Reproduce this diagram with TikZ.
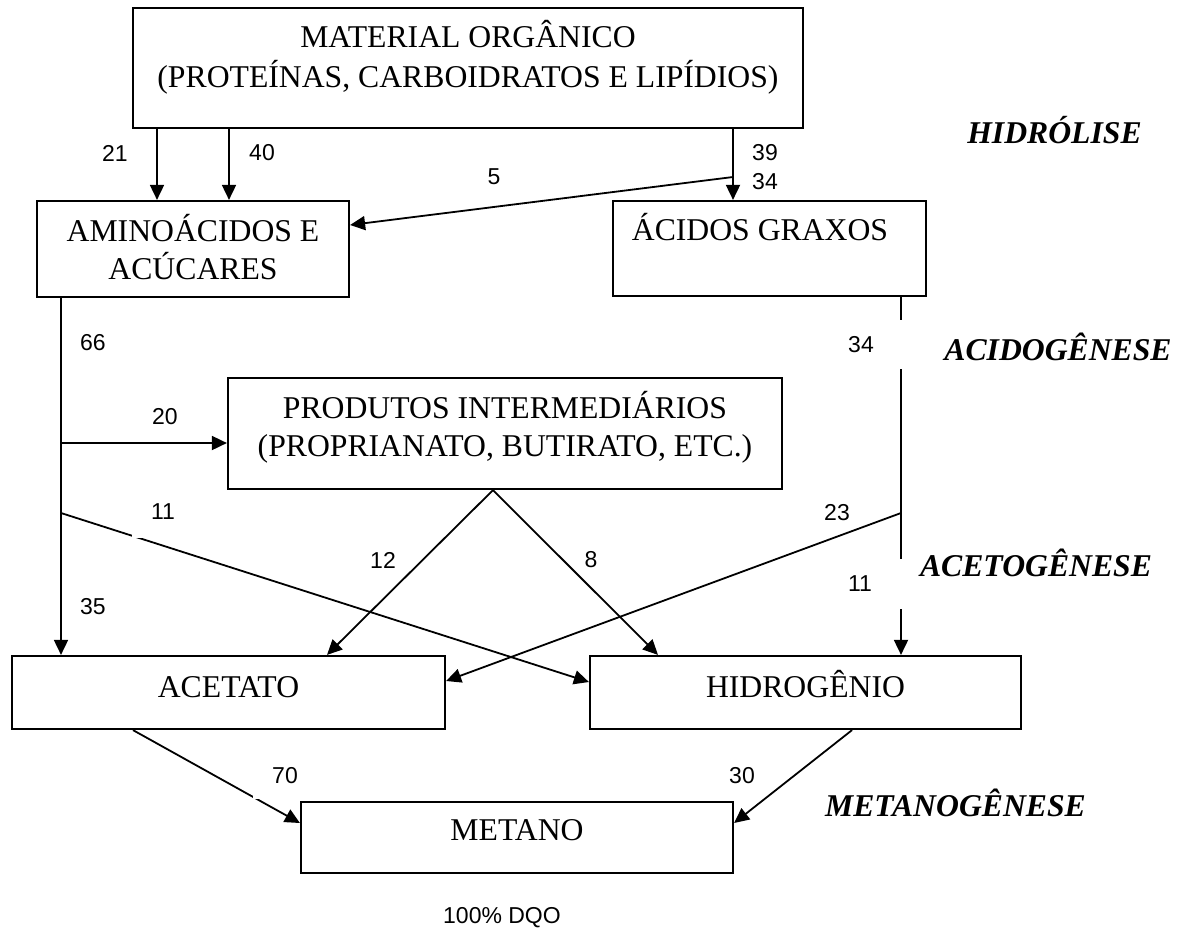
\documentclass[tikz,border=0pt]{standalone}
\usepackage{fontspec}
\setmainfont{Liberation Serif}
\newfontfamily\arialf{Liberation Sans}
\usetikzlibrary{arrows.meta}
\begin{document}
\begin{tikzpicture}[x=1pt,y=-1pt,
  box/.style={draw, line width=2.2pt, inner sep=0pt, fill=white},
  conn/.style={line width=1.8pt},
  arr/.style={conn, -{Triangle[length=15pt,width=14pt]}},
  num/.style={font=\arialf\fontsize{23}{27}\selectfont, inner sep=0pt},
  numw/.style={num, fill=white},
  stage/.style={font=\fontsize{31.7}{40}\selectfont\bfseries\itshape, inner sep=0pt, anchor=base}]
\useasboundingbox (0,0) rectangle (1193,932);

% boxes
\node[box, minimum width=670pt, minimum height=120pt, text height=20pt, text depth=62pt,
      font=\fontsize{31.7}{40}\selectfont] (mat) at (468,68)
  {\begin{tabular}[t]{@{}c@{}}MATERIAL ORGÂNICO\\(PROTEÍNAS, CARBOIDRATOS E LIPÍDIOS)\end{tabular}};
\node[box, minimum width=312pt, minimum height=96pt, text height=20pt, text depth=36pt,
      font=\fontsize{31.7}{37}\selectfont] (amino) at (193,249)
  {\begin{tabular}[t]{@{}c@{}}AMINOÁCIDOS E\\ACÚCARES\end{tabular}};
\node[box, minimum width=313pt, minimum height=95pt, text height=20pt, text depth=37pt,
      font=\fontsize{31.7}{40}\selectfont] (graxos) at (769.5,248.5)
  {ÁCIDOS GRAXOS\hspace*{19pt}};
\node[box, minimum width=554pt, minimum height=111pt, text height=20pt, text depth=51pt,
      font=\fontsize{31.7}{38}\selectfont] (prod) at (505,433.5)
  {\begin{tabular}[t]{@{}c@{}}PRODUTOS INTERMEDIÁRIOS\\(PROPRIANATO, BUTIRATO, ETC.)\end{tabular}};
\node[box, minimum width=433pt, minimum height=73pt, text height=22pt, text depth=13pt,
      font=\fontsize{31.7}{40}\selectfont] (acetato) at (228.5,692.5) {ACETATO};
\node[box, minimum width=431pt, minimum height=73pt, text height=22pt, text depth=13pt,
      font=\fontsize{31.7}{40}\selectfont] (hidro) at (805.5,692.5) {HIDROGÊNIO};
\node[box, minimum width=432pt, minimum height=71pt, text height=22pt, text depth=17pt,
      font=\fontsize{31.7}{40}\selectfont] (metano) at (517,837.5) {METANO};

% stage labels
\node[stage] (stH) at (1054.5,143) {HIDRÓLISE};
\node[stage] (stA) at (1058,360) {ACIDOGÊNESE};
\node[stage] (stC) at (1036,576) {ACETOGÊNESE};
\node[stage] (stM) at (955.5,816) {METANOGÊNESE};

% helper coordinates
\coordinate (x157) at (157,0);
\coordinate (x229) at (229,0);
\coordinate (x733) at (733,0);
\coordinate (x61) at (61,0);
\coordinate (x901) at (901,0);
\coordinate (x493) at (493,0);
\coordinate (x327) at (327,0);
\coordinate (x658) at (658,0);
\coordinate (x133) at (133,0);
\coordinate (x852) at (852,0);
\coordinate (j5) at (733,177);
\coordinate (y225) at (0,225);
\coordinate (j20) at (61,443);
\coordinate (j11) at (61,513);
\coordinate (y682) at (0,682);
\coordinate (j23) at (901,513);
\coordinate (y681) at (0,681);
\coordinate (y823) at (0,823);

% connectors
\draw[arr] (mat.south -| x157) -- (amino.north -| x157);
\draw[arr] (mat.south -| x229) -- (amino.north -| x229);
\draw[arr] (mat.south -| x733) -- (graxos.north -| x733);
\draw[arr] (j5) -- (amino.east |- y225);
\draw[arr] (amino.south -| x61) -- (acetato.north -| x61);
\draw[arr] (j20) -- (prod.west |- j20);
\draw[arr] (j11) -- (hidro.west |- y682);
\draw[arr] (prod.south -| x493) -- (acetato.north -| x327);
\draw[arr] (prod.south -| x493) -- (hidro.north -| x658);
\draw[arr] (graxos.south -| x901) -- (hidro.north -| x901);
\draw[arr] (j23) -- (acetato.east |- y681);
\draw[arr] (acetato.south -| x133) -- (metano.west |- y823);
\draw[arr] (hidro.south -| x852) -- (metano.east |- y823);

% numbers
\node[num] (n21) at (115,153) {21};
\node[num] (n40) at (262,153) {40};
\node[num] (n5) at (494,177) {5};
\node[num] (n39) at (765,153) {39};
\node[num] (n34a) at (765,182) {34};
\node[num] (n66) at (93,343) {66};
\node[num] (n20) at (165,417) {20};
\node[numw, minimum width=62pt, minimum height=52pt] (n11a) at (163,512) {11};
\node[num] (n12) at (383,560) {12};
\node[num] (n8) at (591,560) {8};
\node[num] (n35) at (93,607) {35};
\node[numw, minimum width=86pt, minimum height=49pt] (n34b) at (861,344.5) {34};
\node[num] (n23) at (837,513) {23};
\node[numw, minimum width=86pt, minimum height=50pt] (n11b) at (860,584) {11};
\node[numw, minimum width=64pt, minimum height=46pt] (n70) at (285,776) {70};
\node[num] (n30) at (742,776) {30};
\node[num] (dqo) at (502,918) {100\% DQO};
\end{tikzpicture}
\end{document}
